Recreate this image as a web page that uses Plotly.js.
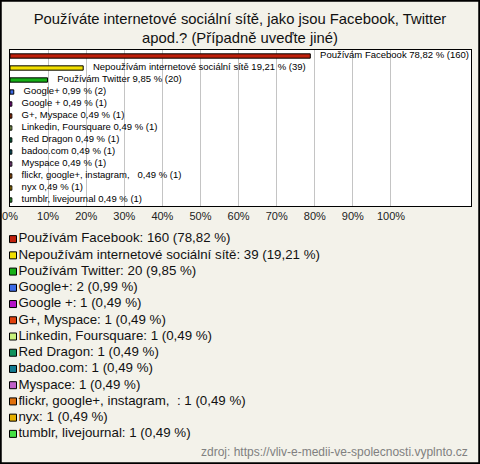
<!DOCTYPE html>
<html>
<head>
<meta charset="utf-8">
<script src="https://cdn.plot.ly/plotly-3.0.1.min.js"></script>
<style>html,body{margin:0;padding:0;background:#f3f2ea;}#chart{width:480px;height:464px;}</style>
</head>
<body>
<div id="chart"></div>
<script>
// ---- data ----
const categories = [
  "Používám Facebook",
  "Nepoužívám internetové sociální sítě",
  "Používám Twitter",
  "Google+",
  "Google +",
  "G+, Myspace",
  "Linkedin, Foursquare",
  "Red Dragon",
  "badoo.com",
  "Myspace",
  "flickr, google+, instagram,\u00a0\u00a0",
  "nyx",
  "tumblr, livejournal"
];
const counts = [160, 39, 20, 2, 1, 1, 1, 1, 1, 1, 1, 1, 1];
const percents = [78.82, 19.21, 9.85, 0.99, 0.49, 0.49, 0.49, 0.49, 0.49, 0.49, 0.49, 0.49, 0.49];
const colors = ["#c0200c", "#f2df00", "#16b016", "#3c6ae6", "#b414c8", "#e0400c",
                "#c8f27c", "#10925c", "#127a90", "#c060c8", "#e0700c", "#e6b000", "#44e044"];
const tickValues = [0, 10, 20, 30, 40, 50, 60, 70, 80, 90, 100];
const tickLabels = ["0%", "10%", "20%", "30%", "40%", "50%", "60%", "70%", "80%", "90%", "100%"];
const titleText = "Používáte internetové sociální sítě, jako jsou Facebook, Twitter<br>apod.? (Případně uveďte jiné)";
const sourceText = "zdroj: https://vliv-e-medii-ve-spolecnosti.vyplnto.cz";

// ---- derived ----
const fmt = v => v.toFixed(2).replace(".", ",");
const idx = categories.map((_, i) => i);
const barLabels = categories.map((c, i) => c + " " + fmt(percents[i]) + " % (" + counts[i] + ")");
const legendLabels = categories.map((c, i) => c + ": " + counts[i] + " (" + fmt(percents[i]) + " %)");
const legendX = 13;
const FONT = "Liberation Sans, Arial, sans-serif";
const H = 464, W = 480;

const traces = [
  {
    type: "bar", orientation: "h", x: percents, y: idx,
    marker: {color: colors, line: {color: "#000", width: 1}},
    width: 0.36, hoverinfo: "skip", xaxis: "x", yaxis: "y"
  },
  {
    type: "scatter", mode: "markers+text", x: percents, y: idx,
    marker: {size: 14, opacity: 0}, text: barLabels, textposition: "middle right",
    textfont: {family: FONT, size: 9.5, color: "#000"}, cliponaxis: false,
    hoverinfo: "skip", xaxis: "x", yaxis: "y"
  },
  {
    type: "scatter", mode: "markers+text", x: idx.map(() => legendX), y: idx,
    marker: {symbol: "square", size: 7, color: colors, line: {color: "#000", width: 1}},
    text: legendLabels, textposition: "middle right",
    textfont: {family: FONT, size: 13.3, color: "#111"}, cliponaxis: false,
    hoverinfo: "skip", xaxis: "x2", yaxis: "y2"
  }
];

const n = categories.length;
const layout = {
  width: W, height: H,
  margin: {l: 0, r: 0, t: 0, b: 0},
  paper_bgcolor: "#f3f2ea", plot_bgcolor: "rgba(0,0,0,0)",
  showlegend: false,
  font: {family: FONT},
  title: {
    text: titleText, font: {family: FONT, size: 14.8, color: "#111"},
    x: 0.5, xanchor: "center", xref: "paper", y: 1 - 24 / H, yanchor: "top", yref: "container"
  },
  xaxis: {
    domain: [10 / W, 471 / W], range: [0, 121], anchor: "y",
    tickvals: tickValues, ticktext: tickLabels,
    tickfont: {family: FONT, size: 11, color: "#222"},
    showgrid: true, gridcolor: "#c4c4c4", gridwidth: 1, zeroline: false,
    showline: true, mirror: true, linecolor: "#000", linewidth: 1, fixedrange: true
  },
  yaxis: {
    domain: [1 - 206 / H, 1 - 50 / H], range: [n - 0.5, -0.5], anchor: "x",
    showticklabels: false, showgrid: false, zeroline: false,
    showline: true, mirror: true, linecolor: "#000", linewidth: 1, fixedrange: true
  },
  xaxis2: {domain: [0, 1], range: [0, W], anchor: "y2", visible: false, fixedrange: true},
  yaxis2: {domain: [1 - 442 / H, 1 - 231 / H], range: [n - 0.5, -0.5], anchor: "x2", visible: false, fixedrange: true},
  shapes: [
    {type: "rect", xref: "x domain", yref: "y domain", x0: 0, x1: 1, y0: 0, y1: 1,
     fillcolor: "#fff", line: {width: 0}, layer: "below"},
    {type: "rect", xref: "paper", yref: "paper", x0: 0, x1: 1, y0: 0, y1: 1,
     fillcolor: "rgba(0,0,0,0)", line: {color: "#000", width: 3.5}, layer: "above"}
  ],
  annotations: [
    {text: sourceText, xref: "paper", yref: "paper", x: 470 / W, xanchor: "right",
     y: 1 - 452 / H, yanchor: "middle", showarrow: false,
     font: {family: FONT, size: 12, color: "#808080"}}
  ]
};

Plotly.newPlot("chart", traces, layout, {staticPlot: true, displayModeBar: false});
</script>
</body>
</html>
